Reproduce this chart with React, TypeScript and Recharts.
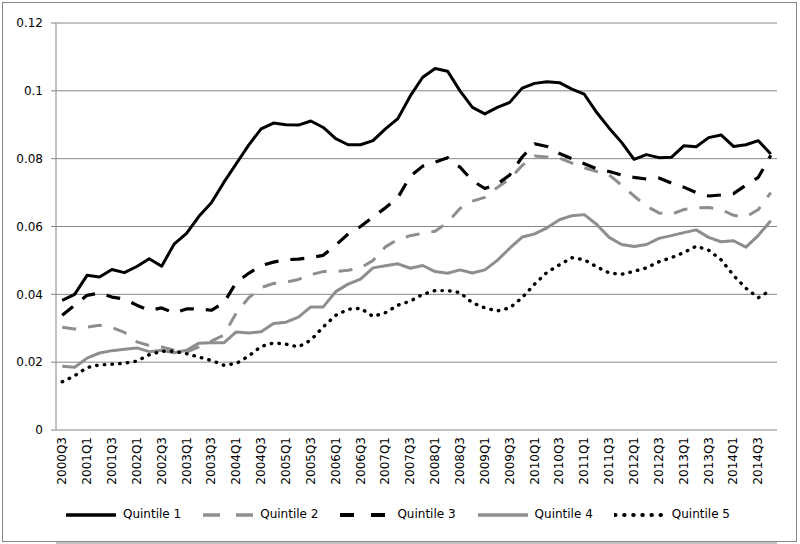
import { LineChart, Line, XAxis, YAxis, CartesianGrid } from 'recharts'

const quarters = [
  '2000Q3', '2000Q4',
  '2001Q1', '2001Q2', '2001Q3', '2001Q4',
  '2002Q1', '2002Q2', '2002Q3', '2002Q4',
  '2003Q1', '2003Q2', '2003Q3', '2003Q4',
  '2004Q1', '2004Q2', '2004Q3', '2004Q4',
  '2005Q1', '2005Q2', '2005Q3', '2005Q4',
  '2006Q1', '2006Q2', '2006Q3', '2006Q4',
  '2007Q1', '2007Q2', '2007Q3', '2007Q4',
  '2008Q1', '2008Q2', '2008Q3', '2008Q4',
  '2009Q1', '2009Q2', '2009Q3', '2009Q4',
  '2010Q1', '2010Q2', '2010Q3', '2010Q4',
  '2011Q1', '2011Q2', '2011Q3', '2011Q4',
  '2012Q1', '2012Q2', '2012Q3', '2012Q4',
  '2013Q1', '2013Q2', '2013Q3', '2013Q4',
  '2014Q1', '2014Q2', '2014Q3', '2014Q4',
]

const quintile1 = [
  0.0382, 0.04, 0.0456, 0.0451, 0.0473, 0.0464, 0.0482, 0.0505, 0.0483, 0.0548,
  0.058, 0.063, 0.067, 0.073, 0.0785, 0.084, 0.0888, 0.0905, 0.09, 0.0899,
  0.0911, 0.0892, 0.0859, 0.0841, 0.0841, 0.0853, 0.0888, 0.0918, 0.0985, 0.104,
  0.1066, 0.1058, 0.1, 0.0951, 0.0932, 0.0951, 0.0966, 0.1008, 0.1022, 0.1027,
  0.1024, 0.1005, 0.099, 0.0936, 0.089, 0.0848, 0.0798, 0.0812, 0.0803, 0.0804,
  0.0838, 0.0835, 0.0862, 0.087, 0.0836, 0.0841, 0.0853, 0.0814,
]

const quintile2 = [
  0.0303, 0.0298, 0.0303, 0.0309, 0.0302, 0.0288, 0.026, 0.0249, 0.0245, 0.0235,
  0.023, 0.0245, 0.0262, 0.028, 0.0345, 0.039, 0.042, 0.0432, 0.0436, 0.0444,
  0.0458, 0.0467, 0.0467, 0.0471, 0.0478, 0.05, 0.054, 0.0562, 0.0573, 0.058,
  0.0586, 0.0612, 0.0653, 0.0675, 0.0686, 0.0715, 0.074, 0.078, 0.0808, 0.0805,
  0.0802, 0.0787, 0.0773, 0.0762, 0.0752, 0.0722, 0.069, 0.066, 0.064, 0.0636,
  0.065, 0.0655, 0.0656, 0.065, 0.0633, 0.0628, 0.065, 0.07,
]

const quintile3 = [
  0.0338, 0.0368, 0.0397, 0.0404, 0.0392, 0.0386, 0.0368, 0.0353, 0.036, 0.0345,
  0.0357, 0.0357, 0.0353, 0.0375, 0.0435, 0.0462, 0.0485, 0.0495, 0.0502, 0.0504,
  0.0508, 0.0515, 0.0545, 0.0578, 0.06, 0.0628, 0.0655, 0.0685, 0.0748, 0.0778,
  0.079, 0.0803, 0.0775, 0.0735, 0.0712, 0.0725, 0.0752, 0.0805, 0.0844, 0.0836,
  0.0815, 0.08, 0.0785, 0.077, 0.0762, 0.0752, 0.0745, 0.074, 0.0743, 0.0728,
  0.0716, 0.07, 0.069, 0.0693, 0.0697, 0.0722, 0.0745, 0.081,
]

const quintile4 = [
  0.0188, 0.0185, 0.0212, 0.0227, 0.0234, 0.0238, 0.0242, 0.0231, 0.0235, 0.0228,
  0.0235, 0.0256, 0.0257, 0.0257, 0.0289, 0.0286, 0.029, 0.0314, 0.0318, 0.0333,
  0.0363, 0.0363, 0.0408, 0.043, 0.0445, 0.0478, 0.0484, 0.049, 0.0477, 0.0485,
  0.0467, 0.0462, 0.0472, 0.0463, 0.0472, 0.05, 0.0536, 0.0569, 0.0578, 0.0596,
  0.062, 0.0632, 0.0635, 0.0606, 0.0568, 0.0547, 0.0541, 0.0547, 0.0565, 0.0573,
  0.0582, 0.059, 0.0568, 0.0555, 0.0558, 0.0539, 0.0574, 0.0617,
]

const quintile5 = [
  0.0142, 0.016, 0.0184, 0.0192, 0.0194, 0.0197, 0.0203, 0.0222, 0.0232, 0.0232,
  0.0225, 0.0215, 0.0205, 0.0191, 0.0196, 0.0218, 0.0246, 0.0257, 0.0253, 0.0245,
  0.0265, 0.0304, 0.0338, 0.0356, 0.0359, 0.0335, 0.0346, 0.0368, 0.038, 0.04,
  0.0411, 0.0411, 0.0405, 0.0375, 0.036, 0.0351, 0.036, 0.039, 0.043, 0.0465,
  0.0487, 0.0508, 0.0502, 0.0481, 0.0463, 0.0459, 0.0468, 0.0478, 0.0496, 0.0508,
  0.0523, 0.0542, 0.053, 0.0502, 0.0456, 0.0418, 0.039, 0.0412,
]

const yTicks = [0, 0.02, 0.04, 0.06, 0.08, 0.1, 0.12]

const FONT = '"DejaVu Sans", Verdana, sans-serif'
const GRID = '#868686'
const GRAY = '#8e8e8e'

const series = [
  { key: 'q1', name: 'Quintile 1', values: quintile1, color: '#000000', width: 3, dash: undefined, legendDash: undefined, cap: 'butt' },
  { key: 'q2', name: 'Quintile 2', values: quintile2, color: GRAY, width: 3, dash: '14 12', legendDash: '17 16', cap: 'butt' },
  { key: 'q3', name: 'Quintile 3', values: quintile3, color: '#000000', width: 3.2, dash: '14 12', legendDash: '14 17', cap: 'butt' },
  { key: 'q4', name: 'Quintile 4', values: quintile4, color: GRAY, width: 3, dash: undefined, legendDash: undefined, cap: 'butt' },
  { key: 'q5', name: 'Quintile 5', values: quintile5, color: '#000000', width: 3.4, dash: '0.5 7.2', legendDash: '0.5 8.6', cap: 'round' },
]

const data = quarters.map((quarter, i) => {
  const row: Record<string, string | number> = { quarter }
  series.forEach((s) => {
    row[s.key] = s.values[i]
  })
  return row
})

// category boundaries, used only for the small tick marks under the axis
const boundaries = [...quarters.map((_, i) => i - 0.5), quarters.length - 0.5]

function QuarterTick(props: any) {
  const { x, y, payload, index } = props
  if (index % 2 !== 0) return <g />
  return (
    <text
      transform={`translate(${x},${y + 7}) rotate(-90)`}
      textAnchor="end"
      dominantBaseline="central"
      fontSize={12}
      fontFamily={FONT}
      fill="#000"
    >
      {payload.value}
    </text>
  )
}

function ChartLegend() {
  return (
    <div
      style={{
        position: 'absolute',
        top: 507,
        left: 8,
        width: 800,
        display: 'flex',
        justifyContent: 'center',
        fontFamily: FONT,
        fontSize: 12,
        color: '#000',
      }}
    >
      {series.map((s) => (
        <div key={s.key} style={{ display: 'flex', alignItems: 'center', marginRight: 21 }}>
          <svg width={52} height={10}>
            <line
              x1={1}
              x2={51}
              y1={5}
              y2={5}
              stroke={s.color}
              strokeWidth={s.width + 0.6}
              strokeDasharray={s.legendDash}
              strokeLinecap={s.cap as any}
            />
          </svg>
          <span style={{ marginLeft: 6, lineHeight: '15px' }}>{s.name}</span>
        </div>
      ))}
    </div>
  )
}

export default function App() {
  return (
    <div style={{ position: 'absolute', left: 0, top: 0, width: 800, height: 544, background: '#fff' }}>
      <div
        style={{
          position: 'absolute',
          left: 2,
          top: 2,
          width: 795,
          height: 540,
          border: '1px solid #878787',
          boxSizing: 'border-box',
        }}
      />
      <LineChart width={800} height={544} data={data} margin={{ top: 23, right: 23, bottom: 0, left: 0 }}>
        <CartesianGrid xAxisId="lab" vertical={false} stroke={GRID} strokeWidth={1} />
        <XAxis
          xAxisId="tk"
          type="number"
          domain={[-0.5, quarters.length - 0.5]}
          allowDataOverflow
          ticks={boundaries}
          tick={false}
          tickSize={5}
          height={1}
          axisLine={{ stroke: GRID }}
          tickLine={{ stroke: GRID }}
        />
        <XAxis
          xAxisId="lab"
          dataKey="quarter"
          scale="band"
          interval={0}
          height={113}
          axisLine={false}
          tickLine={false}
          tickSize={0}
          tickMargin={0}
          tick={<QuarterTick />}
        />
        <YAxis
          width={56}
          domain={[0, 0.12]}
          ticks={yTicks}
          tickSize={5}
          tickMargin={8}
          axisLine={{ stroke: GRID }}
          tickLine={{ stroke: GRID }}
          tick={{ fontSize: 12, fontFamily: FONT, fill: '#000' }}
        />
        {series.map((s) => (
          <Line
            key={s.key}
            xAxisId="lab"
            type="linear"
            dataKey={s.key}
            name={s.name}
            stroke={s.color}
            strokeWidth={s.width}
            strokeDasharray={s.dash}
            strokeLinecap={s.cap as any}
            strokeLinejoin="round"
            dot={false}
            activeDot={false}
            isAnimationActive={false}
          />
        ))}
      </LineChart>
      <ChartLegend />
    </div>
  )
}
